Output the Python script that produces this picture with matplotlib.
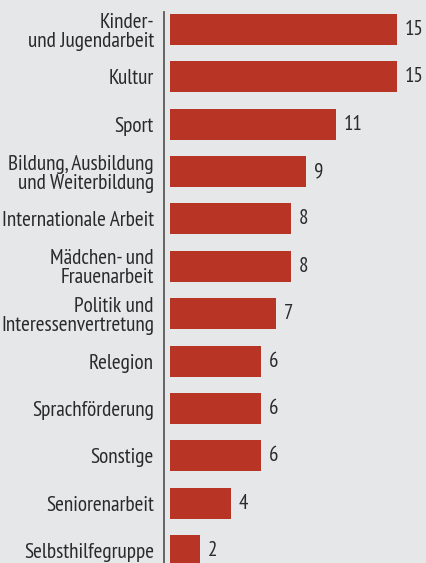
import matplotlib
matplotlib.use("Agg")
import matplotlib.pyplot as plt

categories = [
    "Kinder-\nund Jugendarbeit",
    "Kultur",
    "Sport",
    "Bildung, Ausbildung\nund Weiterbildung",
    "Internationale Arbeit",
    "Mädchen- und\nFrauenarbeit",
    "Politik und\nInteressenvertretung",
    "Relegion",
    "Sprachförderung",
    "Sonstige",
    "Seniorenarbeit",
    "Selbsthilfegruppe",
]
values = [15, 15, 11, 9, 8, 8, 7, 6, 6, 6, 4, 2]

plt.rcParams["font.family"] = ["PT Sans Narrow", "Open Sans Condensed", "DejaVu Sans"]

BG = "#e6e7e9"
BAR = "#b83526"
TXT = "#2a2a2a"

W, H = 426, 563
fig = plt.figure(figsize=(W / 100, H / 100), dpi=100, facecolor=BG)
ax = fig.add_axes([164 / W, 0, (W - 164) / W, 551 / H])
ax.set_facecolor(BG)

pos = list(range(len(values)))
ax.barh(pos, values, height=0.655, color=BAR, zorder=2)

ax.set_xlim(-0.4, 16.92)
ax.set_ylim(len(values) - 1 + 0.264, -0.37)

for p, v in zip(pos, values):
    ax.annotate(str(v), xy=(v, p), xytext=(5.5, 0), textcoords="offset points",
                ha="left", va="center", fontsize=15, color=TXT)

ax.set_yticks(pos)
ax.set_yticklabels(categories, fontsize=15.3, color=TXT, linespacing=1.0, ha="right")
ax.tick_params(axis="y", length=0, pad=7.2)
ax.set_xticks([])
for s in ["top", "right", "bottom"]:
    ax.spines[s].set_visible(False)
ax.spines["left"].set_color("#5a5a5a")
ax.spines["left"].set_linewidth(1.3)

fig.savefig("out.png", dpi=100, facecolor=BG)
